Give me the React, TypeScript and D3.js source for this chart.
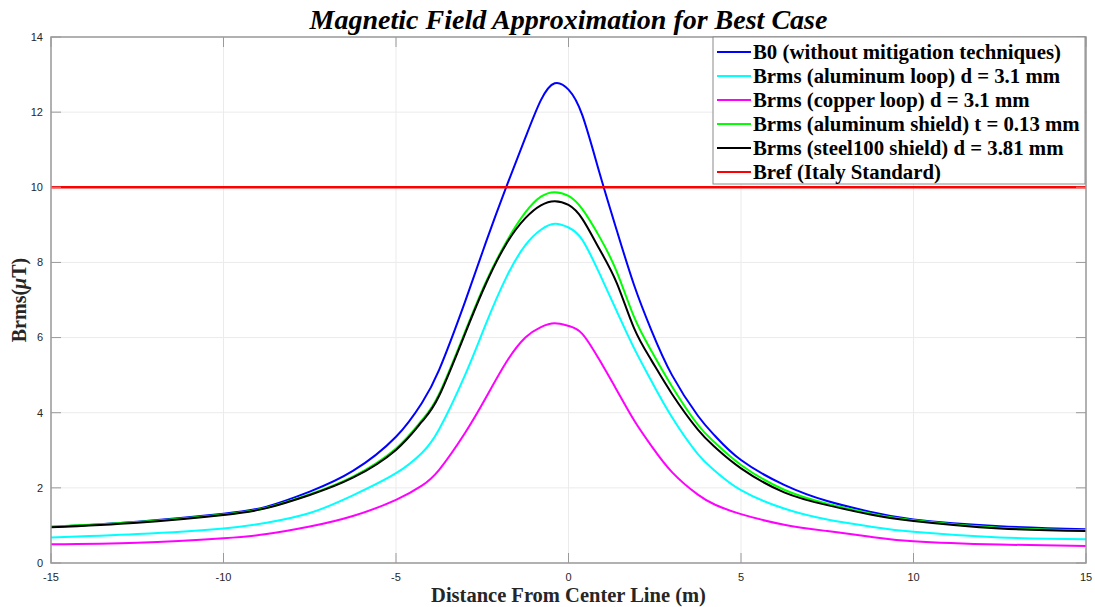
import React from 'react';
import * as d3 from 'd3';

const W = 1095;
const H = 607;
const margin = { top: 37, right: 9, bottom: 44, left: 51 };

const distance = [-15, -12.5, -10, -8.75, -7.5, -6.25, -5, -4.25, -3.75, -3, -2.4, -1.8, -1.25, -0.8, -0.4, 0, 0.4, 0.9, 1.4, 1.9, 2.4, 3, 3.75, 4.25, 5, 6.25, 7.5, 8.75, 10, 12.5, 15];

const b0 = [0.96, 1.1, 1.31, 1.5, 1.9, 2.45, 3.36, 4.26, 5.14, 6.95, 8.52, 10.02, 11.32, 12.32, 12.77, 12.6, 11.92, 10.38, 8.85, 7.4, 6.2, 5.0, 3.92, 3.38, 2.74, 2.08, 1.65, 1.36, 1.16, 0.98, 0.9];
const aluLoop = [0.68, 0.77, 0.92, 1.07, 1.33, 1.8, 2.39, 2.93, 3.56, 5.0, 6.35, 7.61, 8.46, 8.87, 9.03, 8.93, 8.6, 7.7, 6.7, 5.72, 4.85, 3.88, 2.9, 2.45, 1.94, 1.45, 1.16, 0.97, 0.83, 0.68, 0.63];
const copperLoop = [0.5, 0.54, 0.66, 0.77, 0.97, 1.25, 1.68, 2.06, 2.48, 3.46, 4.39, 5.35, 6.0, 6.28, 6.38, 6.31, 6.1, 5.4, 4.6, 3.8, 3.12, 2.42, 1.82, 1.55, 1.3, 1.02, 0.85, 0.7, 0.58, 0.49, 0.45];
const aluShield = [0.97, 1.09, 1.29, 1.47, 1.83, 2.3, 3.05, 3.8, 4.5, 6.15, 7.47, 8.55, 9.33, 9.75, 9.87, 9.77, 9.42, 8.68, 7.75, 6.55, 5.65, 4.7, 3.68, 3.2, 2.61, 1.95, 1.58, 1.32, 1.14, 0.94, 0.87];
const steelShield = [0.95, 1.07, 1.28, 1.46, 1.81, 2.27, 3.01, 3.76, 4.45, 6.1, 7.42, 8.5, 9.18, 9.52, 9.63, 9.53, 9.16, 8.35, 7.45, 6.25, 5.4, 4.5, 3.55, 3.08, 2.52, 1.88, 1.54, 1.29, 1.12, 0.92, 0.85];
const bref = distance.map(() => 10);

const seriesNames = [
  'B0 (without mitigation techniques)',
  'Brms (aluminum loop) d = 3.1 mm',
  'Brms (copper loop) d = 3.1 mm',
  'Brms (aluminum shield) t = 0.13 mm',
  'Brms (steel100 shield) d = 3.81 mm',
  'Bref (Italy Standard)',
];
const seriesColors = ['#0000ff', '#00ffff', '#ff00ff', '#00ff00', '#000000', '#ff0000'];
const seriesValues = [b0, aluLoop, copperLoop, aluShield, steelShield, bref];

const xTicks = [-15, -10, -5, 0, 5, 10, 15];
const yTicks = [0, 2, 4, 6, 8, 10, 12, 14];

const serif = '"Liberation Serif", "Times New Roman", serif';
const sans = '"Liberation Sans", Arial, sans-serif';

export default function App() {
  const innerW = W - margin.left - margin.right;
  const innerH = H - margin.top - margin.bottom;

  const x = d3.scaleLinear().domain([-15, 15]).range([0, innerW]);
  const y = d3.scaleLinear().domain([0, 14]).range([innerH, 0]);

  const line = d3.line<number>()
    .x((_, i) => x(distance[i]))
    .y(d => y(d))
    .curve(d3.curveNatural);

  const legendX = 713 - margin.left;
  const rowH = 24;

  return (
    <svg width={W} height={H} style={{ position: 'absolute', left: 0, top: 0, background: '#fff' }}>
      <g transform={`translate(${margin.left},${margin.top})`}>
        {/* grid */}
        {xTicks.map(t => (
          <line key={'gx' + t} x1={x(t)} x2={x(t)} y1={0} y2={innerH} stroke="#ebebeb" strokeWidth={1} />
        ))}
        {yTicks.map(t => (
          <line key={'gy' + t} x1={0} x2={innerW} y1={y(t)} y2={y(t)} stroke="#ebebeb" strokeWidth={1} />
        ))}

        {/* curves */}
        {seriesValues.map((vals, i) => (
          <path key={'s' + i} d={line(vals) || ''} fill="none"
            stroke={seriesColors[i]} strokeWidth={i === 5 ? 2.5 : 2} />
        ))}

        {/* axes box */}
        <rect x={0} y={0} width={innerW} height={innerH} fill="none" stroke="#9a9a9a" strokeWidth={1.5} />
        {xTicks.map(t => (
          <g key={'tx' + t}>
            <line x1={x(t)} x2={x(t)} y1={innerH} y2={innerH - 10} stroke="#9a9a9a" />
            <line x1={x(t)} x2={x(t)} y1={0} y2={10} stroke="#9a9a9a" />
            <text x={x(t)} y={innerH + 18} textAnchor="middle" fontFamily={sans} fontSize={11} fill="#262626">{t}</text>
          </g>
        ))}
        {yTicks.map(t => (
          <g key={'ty' + t}>
            <line x1={0} x2={10} y1={y(t)} y2={y(t)} stroke="#9a9a9a" />
            <line x1={innerW} x2={innerW - 10} y1={y(t)} y2={y(t)} stroke="#9a9a9a" />
            <text x={-8} y={y(t)} dy="0.35em" textAnchor="end" fontFamily={sans} fontSize={11} fill="#262626">{t}</text>
          </g>
        ))}

        {/* legend */}
        <g transform={`translate(${legendX},0)`}>
          <rect x={0} y={0} width={innerW - legendX - 1} height={147} fill="#fff" stroke="#8a8a8a" strokeWidth={1} />
          {seriesNames.map((name, i) => (
            <g key={'lg' + i} transform={`translate(0,${15 + i * rowH})`}>
              <line x1={4} x2={38} y1={0} y2={0} stroke={seriesColors[i]} strokeWidth={2} />
              <text x={40} y={0} dy="0.35em" fontFamily={serif} fontWeight="bold" fontSize={20.8} fill="#000">{name}</text>
            </g>
          ))}
        </g>
      </g>

      {/* title and axis labels */}
      <text x={margin.left + innerW / 2} y={29} textAnchor="middle" fontFamily={serif} fontWeight="bold" fontStyle="italic" fontSize={28} fill="#000">
        Magnetic Field Approximation for Best Case
      </text>
      <text x={margin.left + innerW / 2} y={602} textAnchor="middle" fontFamily={serif} fontWeight="bold" fontSize={20.5} fill="#262626">
        Distance From Center Line (m)
      </text>
      <text transform={`translate(26,${margin.top + innerH / 2}) rotate(-90)`} textAnchor="middle" fontFamily={serif} fontWeight="bold" fontSize={20} fill="#262626">
        Brms(<tspan fontStyle="italic">μ</tspan>T)
      </text>
    </svg>
  );
}
